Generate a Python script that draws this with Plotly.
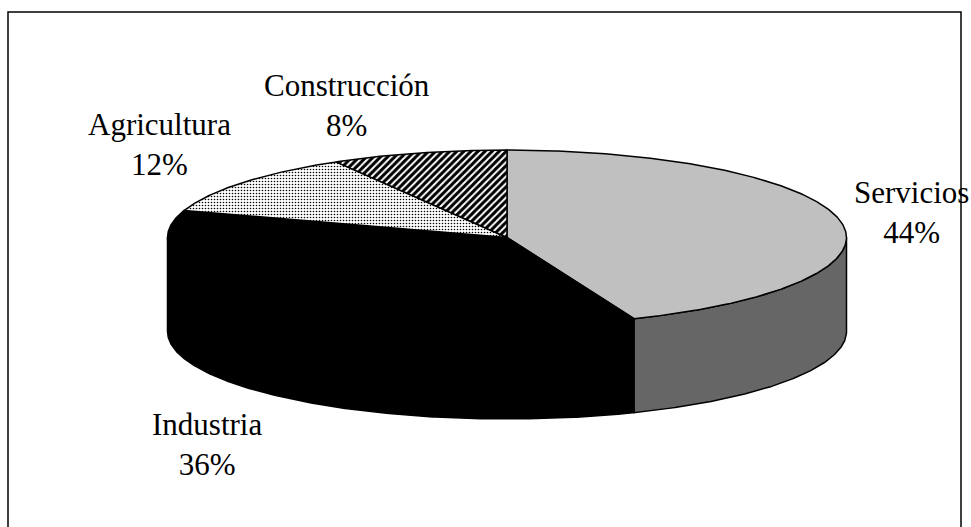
import numpy as np
import plotly.graph_objects as go

categories = ["Servicios", "Industria", "Agricultura", "Construcción"]
values = [43.9, 36.1, 11.6, 8.4]

W, H = 971, 527
CX, CY, RX, RY, DEPTH = 507.0, 237.5, 339.5, 87.5, 94.0
FONT = dict(family="Liberation Serif", size=31, color="#000000")
LINE = dict(color="#000000", width=1.5)

label_pos = {
    "Servicios": (911, 212),
    "Industria": (207, 444),
    "Agricultura": (159, 144),
    "Construcción": (347, 105),
}
styles = {
    "Servicios": dict(fillcolor="#c0c0c0"),
    "Industria": dict(fillcolor="#000000"),
    "Agricultura": dict(fillcolor="#ffffff", fillpattern=dict(
        shape=".", fgcolor="#000000", bgcolor="#ffffff", size=3, solidity=0.22, fillmode="replace")),
    "Construcción": dict(fillcolor="#ffffff", fillpattern=dict(
        shape="/", fgcolor="#000000", bgcolor="#ffffff", size=5, solidity=0.6, fillmode="replace")),
}
side_colors = {"Servicios": "#666666", "Industria": "#000000"}


def rim(a, dy=0.0):
    """Point on the ellipse for a clockwise angle (radians) from 12 o'clock."""
    return CX + RX * np.sin(a), CY - RY * np.cos(a) + dy


def arc(a0, a1, dy=0.0):
    n = max(2, int(abs(a1 - a0) * 120))
    return rim(np.linspace(a0, a1, n), dy)


fig = go.Figure()
total = sum(values)
edges = np.concatenate([[0], np.cumsum(values)]) / total * 2 * np.pi

# Outer wall: only the part facing the viewer (right edge round to left edge)
for name, a0, a1 in zip(categories, edges[:-1], edges[1:]):
    lo, hi = max(a0, np.pi / 2), min(a1, 3 * np.pi / 2)
    if hi <= lo:
        continue
    xt, yt = arc(lo, hi)
    xb, yb = arc(hi, lo, DEPTH)
    fig.add_trace(go.Scatter(
        x=np.r_[xt, xb, xt[0]], y=np.r_[yt, yb, yt[0]], mode="lines",
        fill="toself", fillcolor=side_colors[name], line=LINE, hoverinfo="skip"))

# Top faces
for name, a0, a1 in zip(categories, edges[:-1], edges[1:]):
    xa, ya = arc(a0, a1)
    fig.add_trace(go.Scatter(
        x=np.r_[CX, xa, CX], y=np.r_[CY, ya, CY], mode="lines",
        fill="toself", line=LINE, hoverinfo="skip", **styles[name]))

for name, v in zip(categories, values):
    x, y = label_pos[name]
    fig.add_annotation(x=x, y=y, text=f"{name}<br>{v / total * 100:.0f}%", showarrow=False,
                       font=FONT, align="center", xanchor="center", yanchor="middle")

fig.update_layout(
    width=W, height=H, autosize=False, showlegend=False,
    margin=dict(l=0, r=0, t=0, b=0),
    paper_bgcolor="#ffffff", plot_bgcolor="#ffffff",
    xaxis=dict(range=[0, W], visible=False, fixedrange=True),
    yaxis=dict(range=[H, 0], visible=False, fixedrange=True),
    shapes=[dict(type="rect", xref="x", yref="y", x0=8, y0=12, x1=961, y1=H + 10,
                 line=dict(color="#000000", width=1.5), layer="below")],
)
fig.write_html("out.html", config=dict(displayModeBar=False),
               post_script="document.body.style.margin='0';")
